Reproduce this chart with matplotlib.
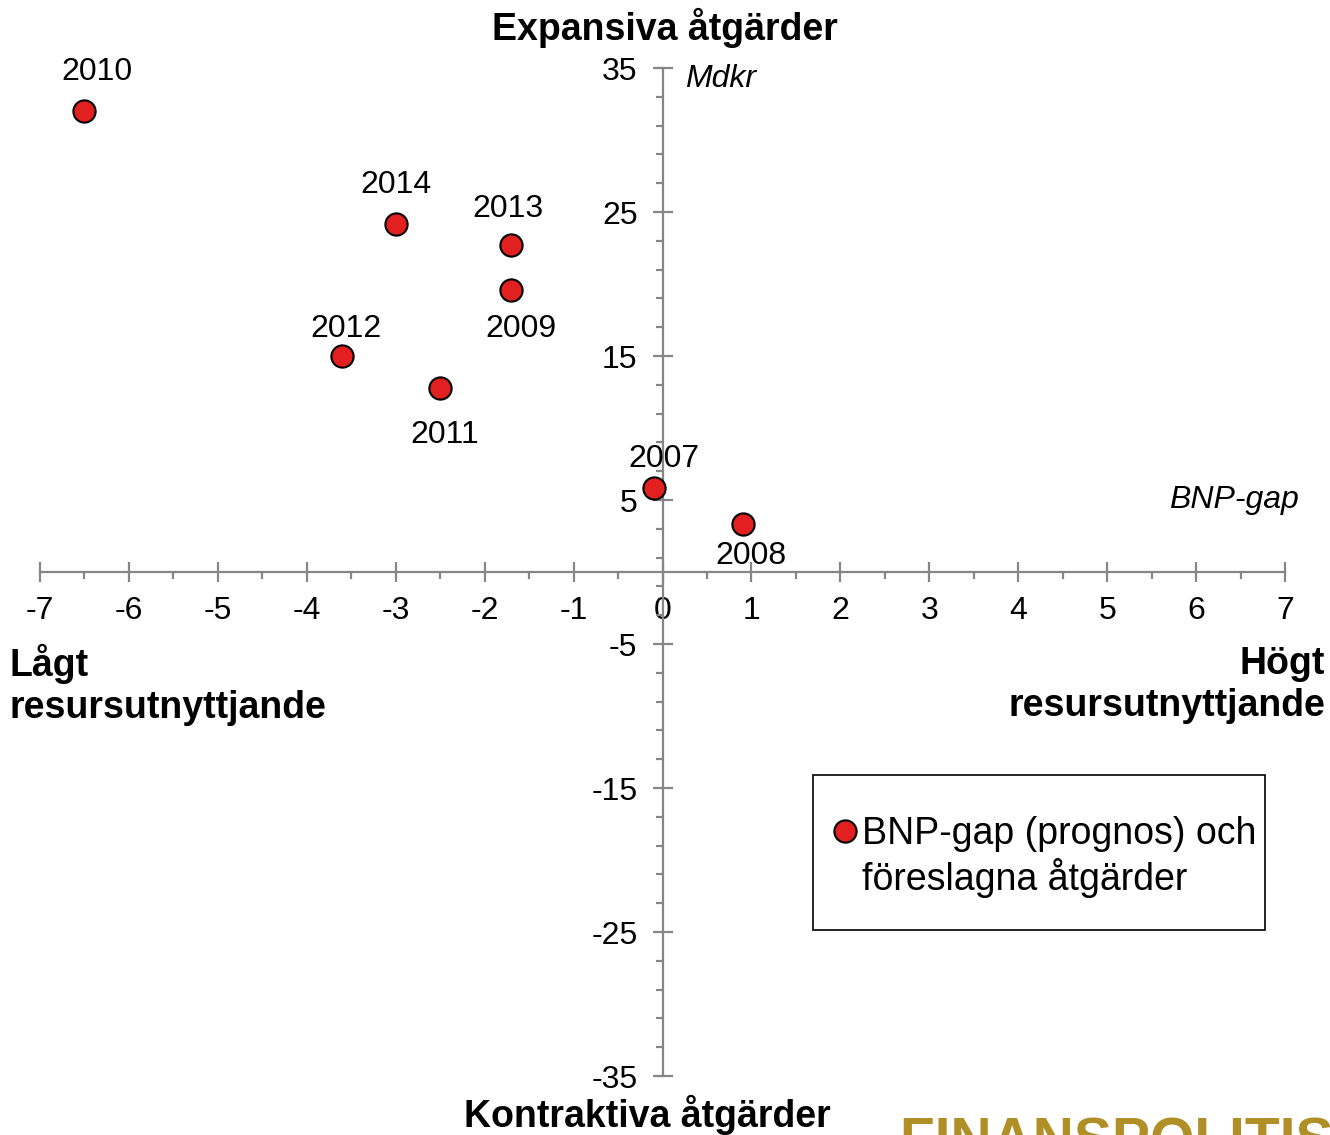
import numpy as np
from matplotlib import pyplot as plt
from matplotlib.lines import Line2D
from matplotlib.patches import Rectangle
from matplotlib.ticker import MultipleLocator, FixedLocator

plt.rcParams['font.family'] = ['Liberation Sans', 'DejaVu Sans']
plt.rcParams['axes.unicode_minus'] = False

# BNP-gap (prognos) och föreslagna åtgärder
years = ['2007', '2008', '2009', '2010', '2011', '2012', '2013', '2014']
bnp_gap = [-0.1, 0.9, -1.7, -6.5, -2.5, -3.6, -1.7, -3.0]
atgarder = [5.8, 3.3, 19.6, 32.0, 12.8, 15.0, 22.7, 24.2]
# label offsets (pixels) relative to each point
label_dx = [10, 8, 10, 12, 5, 4, -3, 0]
label_dy = [29, -32, -39, 39, -47, 27, 36, 39]

grey = '#868686'

fig = plt.figure(figsize=(13.3, 11.35), dpi=100)
ax = fig.add_axes([40/1330, 1-1076/1135, 1245/1330, 1008/1135])

pts, = ax.plot(bnp_gap, atgarder, marker='o', linestyle='None', ms=16,
               mfc='#e32020', mec='black', mew=1.5, zorder=5)

for yr, x, y, dx, dy in zip(years, bnp_gap, atgarder, label_dx, label_dy):
    ax.annotate(yr, (x, y), xytext=(dx, dy), textcoords='offset pixels',
                ha='center', va='center', fontsize=23)

ax.set_xlim(-7, 7)
ax.set_ylim(-35, 35)

for s in ['top', 'right']:
    ax.spines[s].set_visible(False)
ax.spines['left'].set_position(('data', 0))
ax.spines['bottom'].set_position(('data', 0))
for s in ['left', 'bottom']:
    ax.spines[s].set_color(grey)
    ax.spines[s].set_linewidth(1.6)

ax.xaxis.set_major_locator(MultipleLocator(1))
ax.xaxis.set_minor_locator(MultipleLocator(0.5))
ax.yaxis.set_major_locator(FixedLocator(np.arange(-35, 36, 10)))
ax.yaxis.set_minor_locator(FixedLocator(np.arange(-35, 36, 2)))

ax.tick_params(axis='both', which='major', direction='inout', length=14,
               width=1.6, color=grey, labelsize=23)
ax.tick_params(axis='both', which='minor', direction='out', length=5,
               width=1.6, color=grey)
ax.tick_params(axis='x', which='major', pad=10)
ax.tick_params(axis='y', which='major', pad=11)

ax.text(0.25, 35.3, 'Mdkr', style='italic', fontsize=23, ha='left', va='top')
ax.text(7.15, 5.0, 'BNP-gap', style='italic', fontsize=23, ha='right', va='center')

fig.text(665/1330, 1-28/1135, 'Expansiva åtgärder', fontsize=27,
         fontweight='bold', ha='center', va='center')
fig.text(647/1330, 1-1115/1135, 'Kontraktiva åtgärder', fontsize=27,
         fontweight='bold', ha='center', va='center')
fig.text(10/1330, 1-685/1135, 'Lågt\nresursutnyttjande', fontsize=27,
         fontweight='bold', ha='left', va='center', linespacing=1.2)
fig.text(1325/1330, 1-685/1135, 'Högt\nresursutnyttjande', fontsize=27,
         fontweight='bold', ha='right', va='center', linespacing=1.2,
         multialignment='right')

fig.text(900/1330, 1-1158/1135, 'FINANSPOLITISKA RÅDET', fontsize=41,
         fontweight='bold', color='#b08f26', ha='left', va='baseline')

# legend box drawn separately (Excel-style uneven padding)
fig.patches.append(Rectangle((813/1330, 1-930/1135), 452/1330, 155/1135,
                             transform=fig.transFigure, fill=False,
                             edgecolor='black', linewidth=1.2))
blank = Line2D([], [], linestyle='None', marker='None')
leg = fig.legend([pts, blank], ['BNP-gap (prognos) och', 'föreslagna åtgärder'],
                 loc='upper left', bbox_to_anchor=(834/1330, 1-816/1135),
                 fontsize=27, frameon=False,
                 handlelength=0.6, handletextpad=0.15, borderpad=0,
                 labelspacing=0.15, borderaxespad=0)

fig.savefig('out.png', dpi=100)
